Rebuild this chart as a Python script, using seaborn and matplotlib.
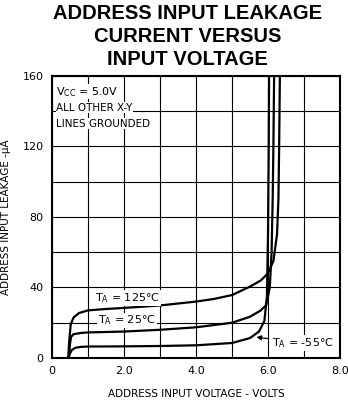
import matplotlib
matplotlib.use("Agg")
import matplotlib.pyplot as plt
import seaborn as sns
import pandas as pd

# curve data (volts, microamps)
v_125 = [0.45, 0.48, 0.52, 0.6, 0.75, 1.0, 1.5, 2.0, 3.0, 4.0, 4.5, 5.0, 5.5, 5.8, 6.0, 6.15, 6.25, 6.29, 6.31, 6.33]
i_125 = [0, 10, 19, 23, 25.5, 27, 27.8, 28.4, 29.8, 32, 33.5, 35.7, 40.5, 44, 48, 55, 70, 90, 120, 160]

v_25 = [0.47, 0.5, 0.53, 0.6, 0.8, 1.0, 2.0, 3.0, 4.0, 5.0, 5.5, 5.8, 5.95, 6.05, 6.1, 6.13, 6.15, 6.17]
i_25 = [0, 8, 12, 13.5, 14.2, 14.5, 15, 16, 17.4, 20, 23.4, 27, 30, 40, 60, 90, 120, 160]

v_m55 = [0.45, 0.5, 0.55, 0.65, 0.8, 1.0, 2.0, 3.0, 4.0, 5.0, 5.5, 5.75, 5.9, 5.97, 6.0, 6.02, 6.03]
i_m55 = [0, 2.5, 4.5, 5.8, 6.3, 6.5, 6.6, 6.8, 7.2, 8.5, 11.3, 15, 21, 35, 70, 120, 160]

x_ticks = [0, 2, 4, 6, 8]
x_labels = ["0", "2.0", "4.0", "6.0", "8.0"]
y_ticks = [0, 40, 80, 120, 160]

sns.set_style("white")
plt.rcParams['font.family'] = ['DejaVu Sans']
plt.rcParams['text.color'] = 'black'
plt.rcParams['axes.labelcolor'] = 'black'
plt.rcParams['xtick.color'] = 'black'
plt.rcParams['ytick.color'] = 'black'

fig = plt.figure(figsize=(3.48, 4.04), dpi=100)
ax = fig.add_axes([0.1494, 0.1139, 0.8276, 0.698])

for v, i in [(v_125, i_125), (v_25, i_25), (v_m55, i_m55)]:
    df = pd.DataFrame({'V': v, 'I': i})
    sns.lineplot(data=df, x='V', y='I', sort=False, color='black', linewidth=1.6, ax=ax)

ax.set_xlim(0, 8)
ax.set_ylim(0, 160)
ax.set_xticks(x_ticks)
ax.set_xticklabels(x_labels, fontsize=8)
ax.set_xticks([1, 3, 5, 7], minor=True)
ax.set_yticks(y_ticks)
ax.set_yticklabels([str(t) for t in y_ticks], fontsize=8)
ax.set_yticks([20, 60, 100, 140], minor=True)
ax.grid(True, which='both', color='black', linewidth=0.8)
ax.tick_params(which='both', length=0, pad=6)
for s in ax.spines.values():
    s.set_color('black')
    s.set_linewidth(1.5)

ax.set_xlabel("ADDRESS INPUT VOLTAGE - VOLTS", fontsize=7.5, labelpad=9)
ax.set_ylabel("ADDRESS INPUT LEAKAGE -\u03bcA", fontsize=7.5, labelpad=8)

# annotations
box = dict(facecolor='white', edgecolor='none', pad=0.5)
ax.text(0.12, 151, "V$_{\\mathregular{CC}}$ = 5.0V", fontsize=8, va='center', bbox=box)
ax.text(0.12, 142, "ALL OTHER X-Y", fontsize=7.5, va='center', bbox=box)
ax.text(0.12, 133, "LINES GROUNDED", fontsize=7.5, va='center', bbox=box)
ax.text(1.2, 34, "T$_{\\mathregular{A}}$ = 125\u00b0C", fontsize=8, va='center', bbox=box)
ax.text(1.28, 21.5, "T$_{\\mathregular{A}}$ = 25\u00b0C", fontsize=8, va='center', bbox=box)
ax.annotate("T$_{\\mathregular{A}}$ = -55\u00b0C", xy=(5.6, 12), xytext=(6.12, 8.5),
            fontsize=8, va='center', bbox=box,
            arrowprops=dict(arrowstyle='-|>', color='black', lw=0.9, mutation_scale=7))

fig.text(0.54, 0.99, "ADDRESS INPUT LEAKAGE\nCURRENT VERSUS\nINPUT VOLTAGE",
         ha='center', va='top', fontsize=14.5, fontweight='bold',
         family=['Liberation Sans', 'DejaVu Sans'], linespacing=1.28)

plt.savefig("out.png", dpi=100)
